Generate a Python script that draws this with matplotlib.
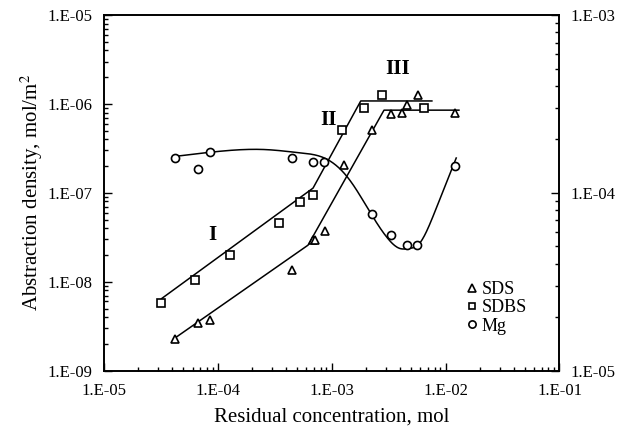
import numpy as np
import matplotlib
matplotlib.use("Agg")
import matplotlib.pyplot as plt
from matplotlib.ticker import LogLocator, FixedLocator, FixedFormatter, NullFormatter

plt.rcParams['font.family'] = ['Liberation Serif', 'DejaVu Serif']
plt.rcParams['mathtext.fontset'] = 'stix'

# ---------------- data ----------------
sds_x = [4.17e-5, 6.7e-5, 8.6e-5, 4.5e-4, 6.9e-4, 7.2e-4, 8.8e-4, 1.29e-3, 2.25e-3,
         3.3e-3, 4.14e-3, 4.56e-3, 5.67e-3, 1.22e-2]
sds_y = [2.28e-9, 3.45e-9, 3.73e-9, 1.35e-8, 2.94e-8, 2.94e-8, 3.74e-8, 2.03e-7, 5.12e-7,
         7.76e-7, 8.0e-7, 9.8e-7, 1.27e-6, 7.9e-7]

sdbs_x = [3.2e-5, 6.3e-5, 1.28e-4, 3.44e-4, 5.26e-4, 6.8e-4, 1.24e-3, 1.91e-3, 2.75e-3, 6.43e-3]
sdbs_y = [5.75e-9, 1.04e-8, 2.02e-8, 4.53e-8, 7.95e-8, 9.46e-8, 5.12e-7, 9.0e-7, 1.25e-6, 9.0e-7]

mg_x = [4.17e-5, 6.7e-5, 8.6e-5, 4.5e-4, 6.9e-4, 8.6e-4, 2.25e-3, 3.3e-3, 4.56e-3, 5.6e-3, 1.22e-2]
mg_y = [1.58e-4, 1.37e-4, 1.69e-4, 1.57e-4, 1.49e-4, 1.49e-4, 7.57e-5, 5.83e-5, 5.12e-5, 5.08e-5, 1.41e-4]

# fitted piecewise lines (break points)
sds_fit_x = [4.11e-5, 6.2e-4, 2.88e-3, 1.31e-2]
sds_fit_y = [2.28e-9, 2.58e-8, 8.51e-7, 8.51e-7]
sdbs_fit_x = [3.21e-5, 6.86e-4, 1.80e-3, 7.58e-3]
sdbs_fit_y = [6.46e-9, 1.13e-7, 1.08e-6, 1.08e-6]

# Mg smooth trend curve (knots)
mg_fit_x = [4.11e-5, 8.5e-5, 2.67e-4, 5.23e-4, 9.0e-4, 1.44e-3, 2.20e-3, 3.02e-3,
            3.95e-3, 4.83e-3, 5.71e-3, 7.74e-3, 1.01e-2, 1.24e-2]
mg_fit_y = [1.60e-4, 1.69e-4, 1.75e-4, 1.68e-4, 1.55e-4, 1.18e-4, 7.68e-5, 5.67e-5,
            4.87e-5, 4.87e-5, 5.08e-5, 7.35e-5, 1.13e-4, 1.57e-4]

region_labels = ["I", "II", "III"]
region_x = [9.0e-5, 9.3e-4, 3.77e-3]
region_y = [3.35e-8, 6.68e-7, 2.45e-6]

x_ticks = [1e-5, 1e-4, 1e-3, 1e-2, 1e-1]
x_tick_labels = ["1.E-05", "1.E-04", "1.E-03", "1.E-02", "1.E-01"]
y_ticks = [1e-9, 1e-8, 1e-7, 1e-6, 1e-5]
y_tick_labels = ["1.E-09", "1.E-08", "1.E-07", "1.E-06", "1.E-05"]
y2_ticks = [1e-5, 1e-4, 1e-3]
y2_tick_labels = ["1.E-05", "1.E-04", "1.E-03"]


def natural_spline(x, y, xs):
    x = np.asarray(x, float); y = np.asarray(y, float)
    n = len(x)
    h = np.diff(x)
    A = np.zeros((n, n)); b = np.zeros(n)
    A[0, 0] = 1; A[-1, -1] = 1
    for i in range(1, n - 1):
        A[i, i - 1] = h[i - 1]
        A[i, i] = 2 * (h[i - 1] + h[i])
        A[i, i + 1] = h[i]
        b[i] = 3 * ((y[i + 1] - y[i]) / h[i] - (y[i] - y[i - 1]) / h[i - 1])
    c = np.linalg.solve(A, b)
    bb = (y[1:] - y[:-1]) / h - h * (2 * c[:-1] + c[1:]) / 3
    d = (c[1:] - c[:-1]) / (3 * h)
    idx = np.clip(np.searchsorted(x, xs) - 1, 0, n - 2)
    dx = xs - x[idx]
    return y[idx] + bb[idx] * dx + c[idx] * dx ** 2 + d[idx] * dx ** 3


# ---------------- figure ----------------
fig = plt.figure(figsize=(6.22, 4.29), dpi=100)
ax = fig.add_axes([0.167, 0.136, 0.7325, 0.829])
ax2 = ax.twinx()

ax.set_xscale('log'); ax.set_yscale('log'); ax2.set_yscale('log')
ax.set_xlim(x_ticks[0], x_ticks[-1])
ax.set_ylim(y_ticks[0], y_ticks[-1])
ax2.set_ylim(y2_ticks[0], y2_ticks[-1])

lw = 1.1
ax.plot(sds_fit_x, sds_fit_y, color='black', lw=lw, zorder=2)
ax.plot(sdbs_fit_x, sdbs_fit_y, color='black', lw=lw, zorder=2)

lx = np.log10(mg_fit_x); ly = np.log10(mg_fit_y)
xs = np.linspace(lx[0], lx[-1], 400)
ax2.plot(10 ** xs, 10 ** natural_spline(lx, ly, xs), color='black', lw=lw, zorder=2)

mk = dict(linestyle='none', markerfacecolor='white', markeredgecolor='black',
          markeredgewidth=1.2, zorder=3)
h1, = ax.plot(sds_x, sds_y, marker='^', markersize=6, label='SDS', **mk)
h2, = ax.plot(sdbs_x, sdbs_y, marker='s', markersize=5.5, label='SDBS', **mk)
h3, = ax2.plot(mg_x, mg_y, marker='o', markersize=5.8, label='Mg', **mk)

for t, x, y in zip(region_labels, region_x, region_y):
    ax.text(x, y, t, ha='center', va='center', fontsize=15, fontweight='bold')

ax.xaxis.set_major_locator(FixedLocator(x_ticks))
ax.xaxis.set_major_formatter(FixedFormatter(x_tick_labels))
ax.yaxis.set_major_locator(FixedLocator(y_ticks))
ax.yaxis.set_major_formatter(FixedFormatter(y_tick_labels))
ax2.yaxis.set_major_locator(FixedLocator(y2_ticks))
ax2.yaxis.set_major_formatter(FixedFormatter(y2_tick_labels))
for axis in (ax.xaxis, ax.yaxis, ax2.yaxis):
    axis.set_minor_locator(LogLocator(base=10, subs=np.arange(2, 10), numticks=10))
    axis.set_minor_formatter(NullFormatter())

ax.tick_params(axis='y', which='major', direction='in', length=6, width=1,
               labelsize=12, right=False, pad=8)
ax.tick_params(axis='x', which='major', direction='in', length=6, width=1,
               labelsize=12, top=False, pad=9)
ax.tick_params(axis='both', which='minor', direction='in', length=3, width=1,
               top=False, right=False)
ax2.tick_params(axis='y', which='major', direction='in', length=6, width=1, labelsize=12, pad=8)
ax2.tick_params(axis='y', which='minor', direction='in', length=3, width=1)
ax2.tick_params(axis='x', which='both', bottom=False, top=False,
                labelbottom=False, labeltop=False)

for a in (ax, ax2):
    for s in a.spines.values():
        s.set_linewidth(1.2)

ax.set_xlabel('Residual concentration, mol', fontsize=15, labelpad=6)
ax.set_ylabel('Abstraction density, mol/m$^2$', fontsize=15, labelpad=2)

leg = ax.legend(handles=[h1, h2, h3], loc='upper left', bbox_to_anchor=(0.78, 0.272),
                frameon=False, fontsize=13, handlelength=0.6, handletextpad=0.25,
                labelspacing=0.07, borderaxespad=0, markerscale=0.9)

fig.savefig('out.png', dpi=100)
